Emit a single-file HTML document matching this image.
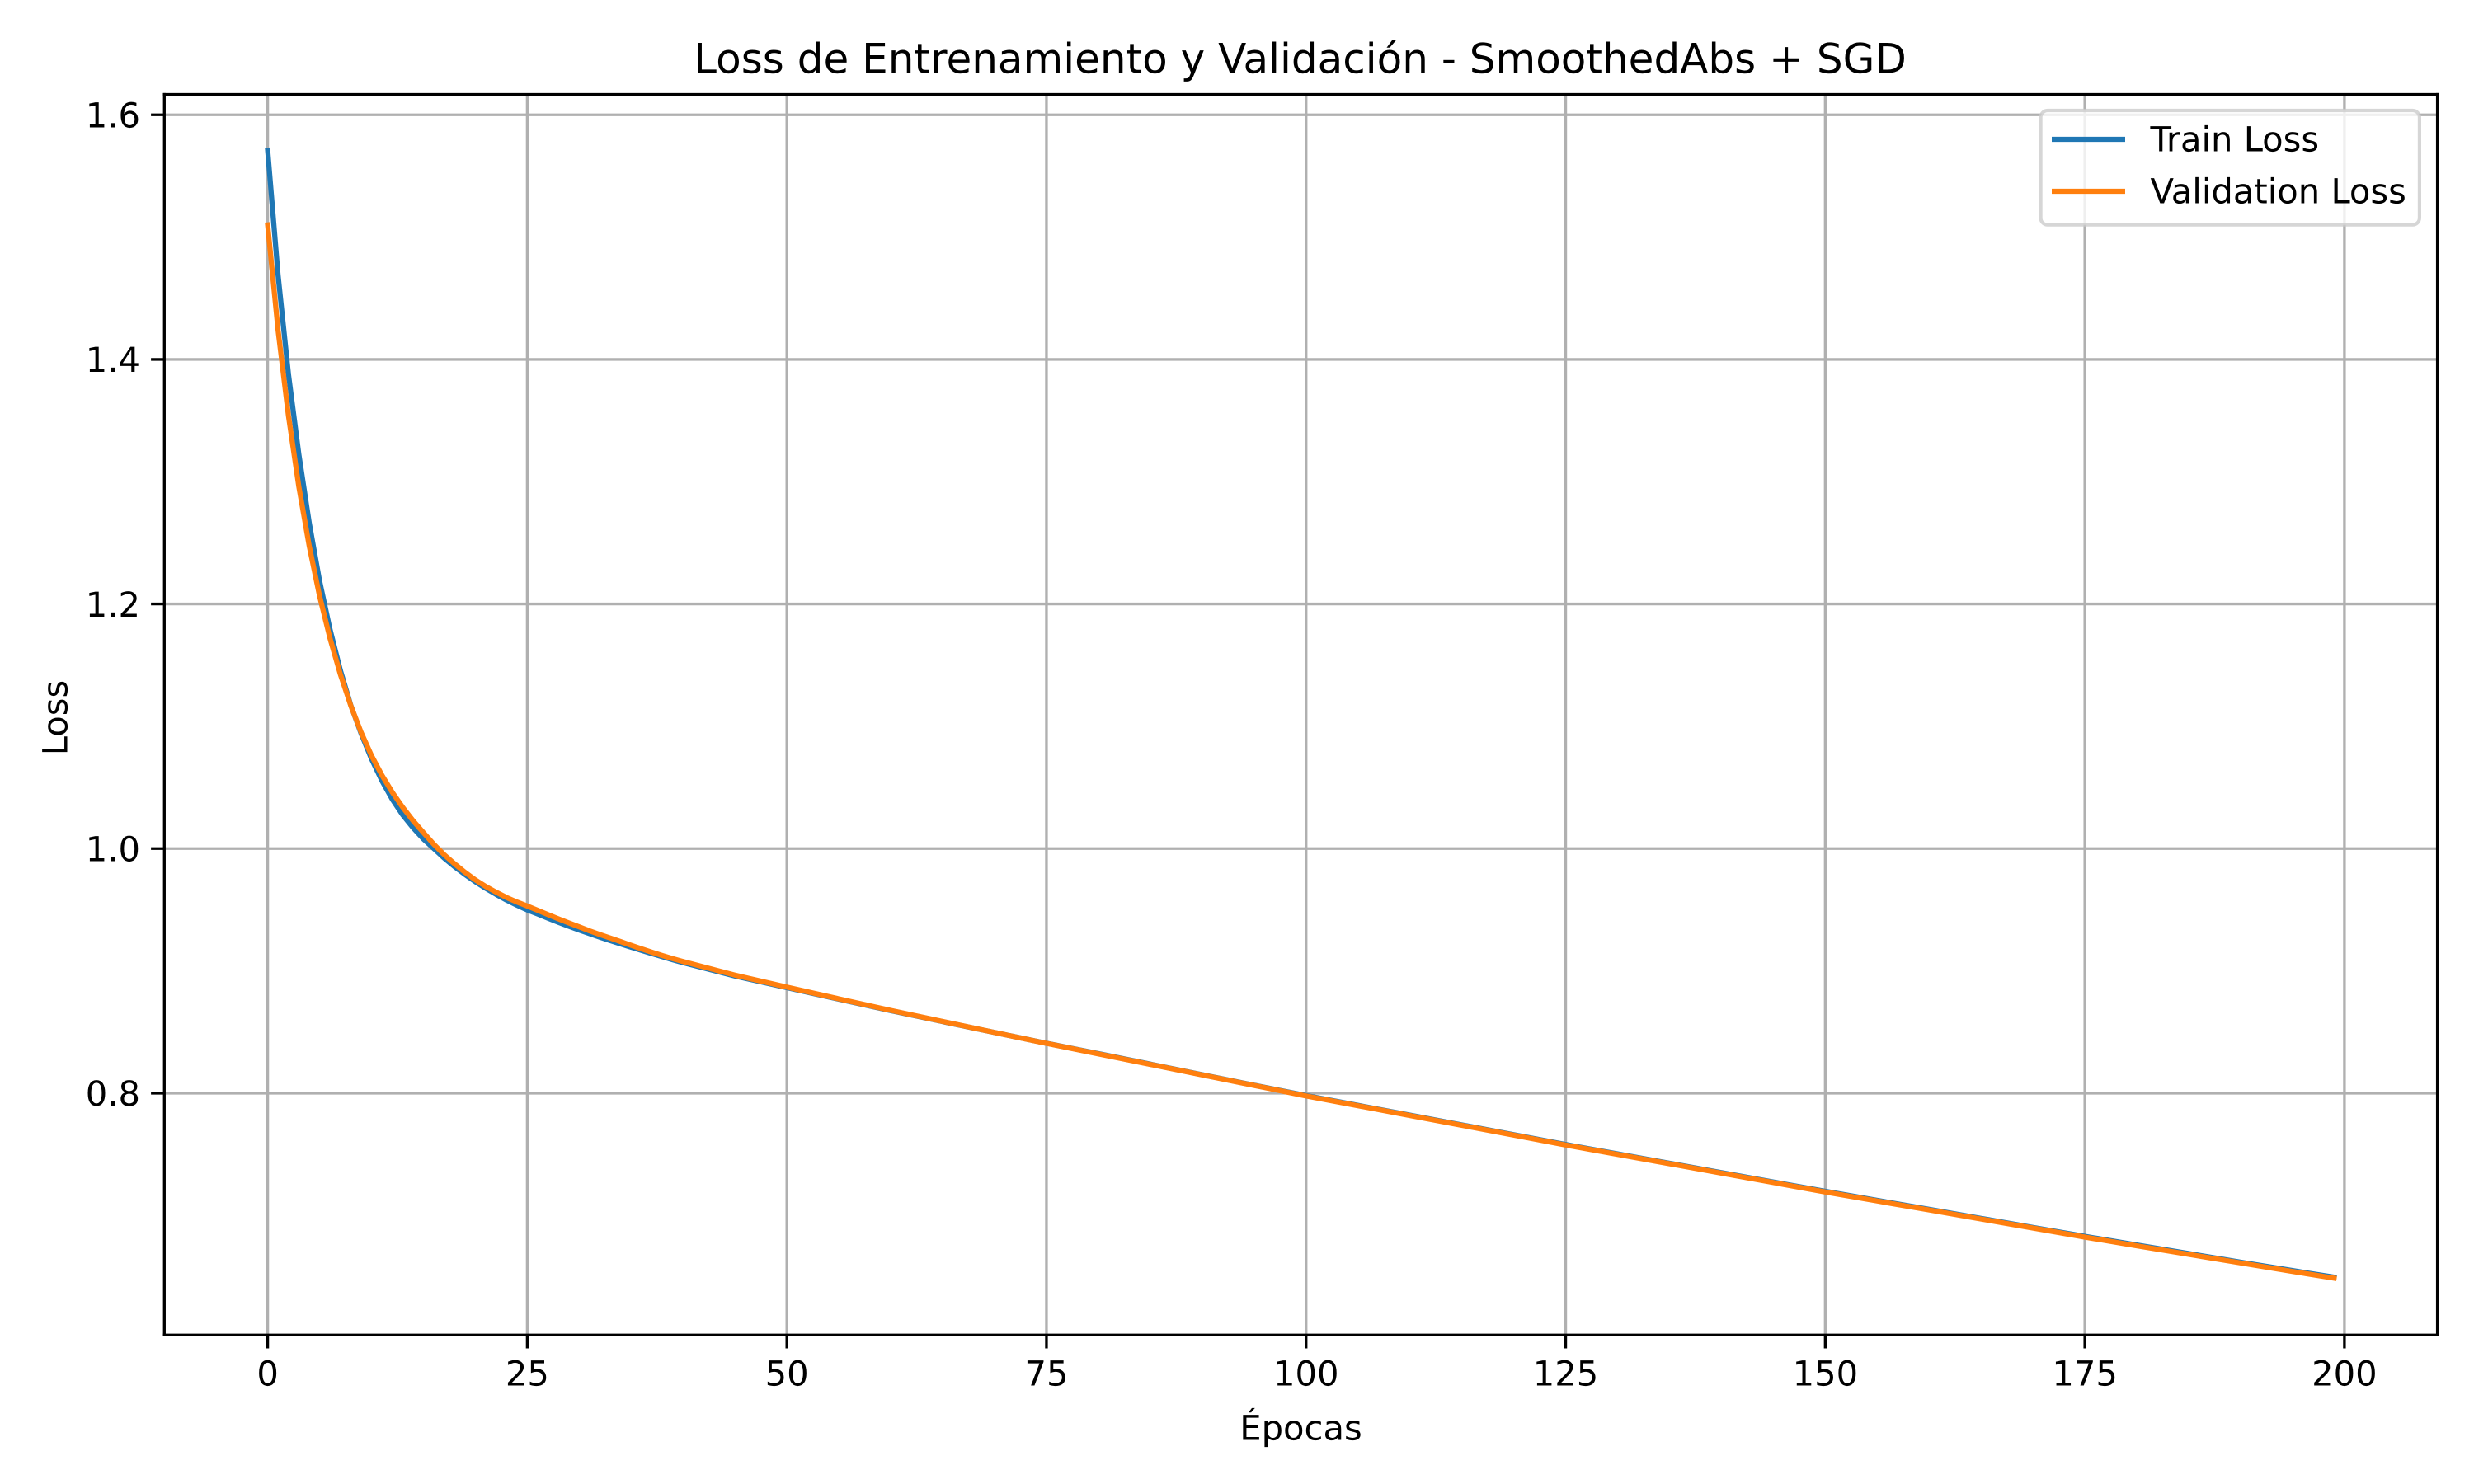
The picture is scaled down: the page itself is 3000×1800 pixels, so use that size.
<!DOCTYPE html>
<html lang="es">
<head>
<meta charset="utf-8">
<title>Loss de Entrenamiento y Validación - SmoothedAbs + SGD</title>
<style>
html,body{margin:0;padding:0;background:#fff;}
svg{display:block;}
text{font-family:"DejaVu Sans","Liberation Sans",sans-serif;fill:#000;text-rendering:geometricPrecision;}
</style>
</head>
<body>
<svg id="chart" xmlns="http://www.w3.org/2000/svg" width="3000" height="1800" viewBox="0 0 3000 1800">
  <rect x="0" y="0" width="3000" height="1800" fill="#ffffff"/>
  <g id="grid"></g>
  <g id="series"></g>
  <g id="spines">
    <line x1="199.3" y1="114.5" x2="199.3" y2="1619.3" stroke="#000" stroke-width="3.33" stroke-linecap="square"/>
    <line x1="2955.6" y1="114.5" x2="2955.6" y2="1619.3" stroke="#000" stroke-width="3.33" stroke-linecap="square"/>
    <line x1="199.3" y1="114.5" x2="2955.6" y2="114.5" stroke="#000" stroke-width="3.33" stroke-linecap="square"/>
    <line x1="199.3" y1="1619.3" x2="2955.6" y2="1619.3" stroke="#000" stroke-width="3.33" stroke-linecap="square"/>
  </g>
  <g id="ticks"></g>
  <text x="1576.5" y="88.5" font-size="50" text-anchor="middle">Loss de Entrenamiento y Validación - SmoothedAbs + SGD</text>
  <text x="1577.5" y="1746.5" font-size="41.67" text-anchor="middle">Épocas</text>
  <text transform="translate(81.5 870.5) rotate(-90)" font-size="41.67" text-anchor="middle">Loss</text>
  <g id="legend">
    <rect x="2474.6" y="134" width="459.3" height="138.7" rx="8.33" ry="8.33" fill="#ffffff" fill-opacity="0.8" stroke="#cccccc" stroke-opacity="0.8" stroke-width="4.17"/>
    <line x1="2488" y1="169" x2="2577" y2="169" stroke="#1f77b4" stroke-width="6.25"/>
    <text x="2607.5" y="183.3" font-size="41.67">Train Loss</text>
    <line x1="2488" y1="232" x2="2577" y2="232" stroke="#ff7f0e" stroke-width="6.25"/>
    <text x="2607.5" y="246.7" font-size="41.67">Validation Loss</text>
  </g>
</svg>
<script>
const epochs = [0,1,2,3,4,5,6,7,8,9,10,11,12,13,14,15,16,17,18,19,20,21,22,23,24,25,26,27,28,29,30,31,32,33,34,35,36,37,38,39,40,45,50,55,60,65,70,75,80,85,90,95,100,105,110,115,120,125,130,135,140,145,150,155,160,165,170,175,180,185,190,195,199];
const trainLoss = [1.571,1.469,1.388,1.3225,1.2665,1.2188,1.1793,1.1458,1.1173,1.094,1.0733,1.0555,1.0403,1.0275,1.017,1.0078,1.0,0.9922,0.9852,0.9788,0.9729,0.9675,0.9625,0.9579,0.9537,0.9498,0.9465,0.943,0.9397,0.9365,0.9334,0.9304,0.9275,0.9247,0.922,0.9193,0.9167,0.9141,0.9116,0.9091,0.9067,0.8958,0.8863,0.8768,0.8675,0.8585,0.8496,0.8408,0.8323,0.8237,0.8151,0.8065,0.798,0.79,0.782,0.774,0.766,0.758,0.7503,0.7427,0.735,0.7273,0.7197,0.7123,0.705,0.6976,0.6902,0.6829,0.6758,0.6688,0.6618,0.6549,0.6495];
const validationLoss = [1.51,1.424,1.354,1.296,1.2475,1.2065,1.172,1.1425,1.117,1.095,1.076,1.06,1.046,1.0338,1.0228,1.013,1.0035,0.995,0.9875,0.9806,0.9744,0.969,0.9643,0.96,0.9563,0.953,0.9495,0.946,0.9425,0.9392,0.936,0.9327,0.9297,0.9268,0.9239,0.9209,0.918,0.9152,0.9125,0.91,0.9076,0.8965,0.8867,0.8771,0.8677,0.8586,0.8496,0.8407,0.8321,0.8235,0.8149,0.8063,0.7977,0.7897,0.7817,0.7737,0.7657,0.7576,0.7499,0.7423,0.7346,0.7269,0.7192,0.7118,0.7045,0.6971,0.6897,0.6823,0.6752,0.6682,0.6612,0.6542,0.6487];
const xTickValues = [0,25,50,75,100,125,150,175,200];
const yTickValues = [0.8,1.0,1.2,1.4,1.6];
const yTickLabels = ["0.8","1.0","1.2","1.4","1.6"];

const NS = "http://www.w3.org/2000/svg";
const plot = {left:199.3, right:2955.6, top:114.5, bottom:1619.3};
const xDomain = [-9.95, 208.95];
const yDomain = [0.6022, 1.6167];

function xScale(v){
  return plot.left + (v - xDomain[0]) / (xDomain[1] - xDomain[0]) * (plot.right - plot.left);
}
function yScale(v){
  return plot.bottom - (v - yDomain[0]) / (yDomain[1] - yDomain[0]) * (plot.bottom - plot.top);
}
function make(tag, attrs, parent){
  const el = document.createElementNS(NS, tag);
  for (const k in attrs) el.setAttribute(k, attrs[k]);
  parent.appendChild(el);
  return el;
}

const gridG = document.getElementById('grid');
const tickG = document.getElementById('ticks');
const seriesG = document.getElementById('series');

xTickValues.forEach(function(v){
  const x = xScale(v);
  const g = make('line', {x1:x, x2:x, y1:plot.top, y2:plot.bottom, stroke:'#b0b0b0', 'stroke-width':3.33}, gridG);
  
  
  const t = make('line', {x1:x, x2:x, y1:plot.bottom, y2:plot.bottom + 14.6 + 1.6, stroke:'#000', 'stroke-width':3.33}, tickG);
  
  
  const l = make('text', {x:x, y:1680.5, 'font-size':41.67, 'text-anchor':'middle'}, tickG);
  l.textContent = String(v);
  
  
});

yTickValues.forEach(function(v, i){
  const y = yScale(v);
  const g = make('line', {x1:plot.left, x2:plot.right, y1:y, y2:y, stroke:'#b0b0b0', 'stroke-width':3.33}, gridG);
  
  
  const t = make('line', {x1:plot.left - 14.6 - 1.6, x2:plot.left, y1:y, y2:y, stroke:'#000', 'stroke-width':3.33}, tickG);
  
  
  const l = make('text', {x:170, y:y + 15.2, 'font-size':41.67, 'text-anchor':'end'}, tickG);
  l.textContent = yTickLabels[i];
  
  
});

function linePoints(values){
  return values.map(function(v, i){
    return xScale(epochs[i]).toFixed(2) + ',' + yScale(v).toFixed(2);
  }).join(' ');
}
const trainLine = make('polyline', {points:linePoints(trainLoss), fill:'none', stroke:'#1f77b4', 'stroke-width':6.25, 'stroke-linecap':'square', 'stroke-linejoin':'round'}, seriesG);


const valLine = make('polyline', {points:linePoints(validationLoss), fill:'none', stroke:'#ff7f0e', 'stroke-width':6.25, 'stroke-linecap':'square', 'stroke-linejoin':'round'}, seriesG);


</script>
</body>
</html>
